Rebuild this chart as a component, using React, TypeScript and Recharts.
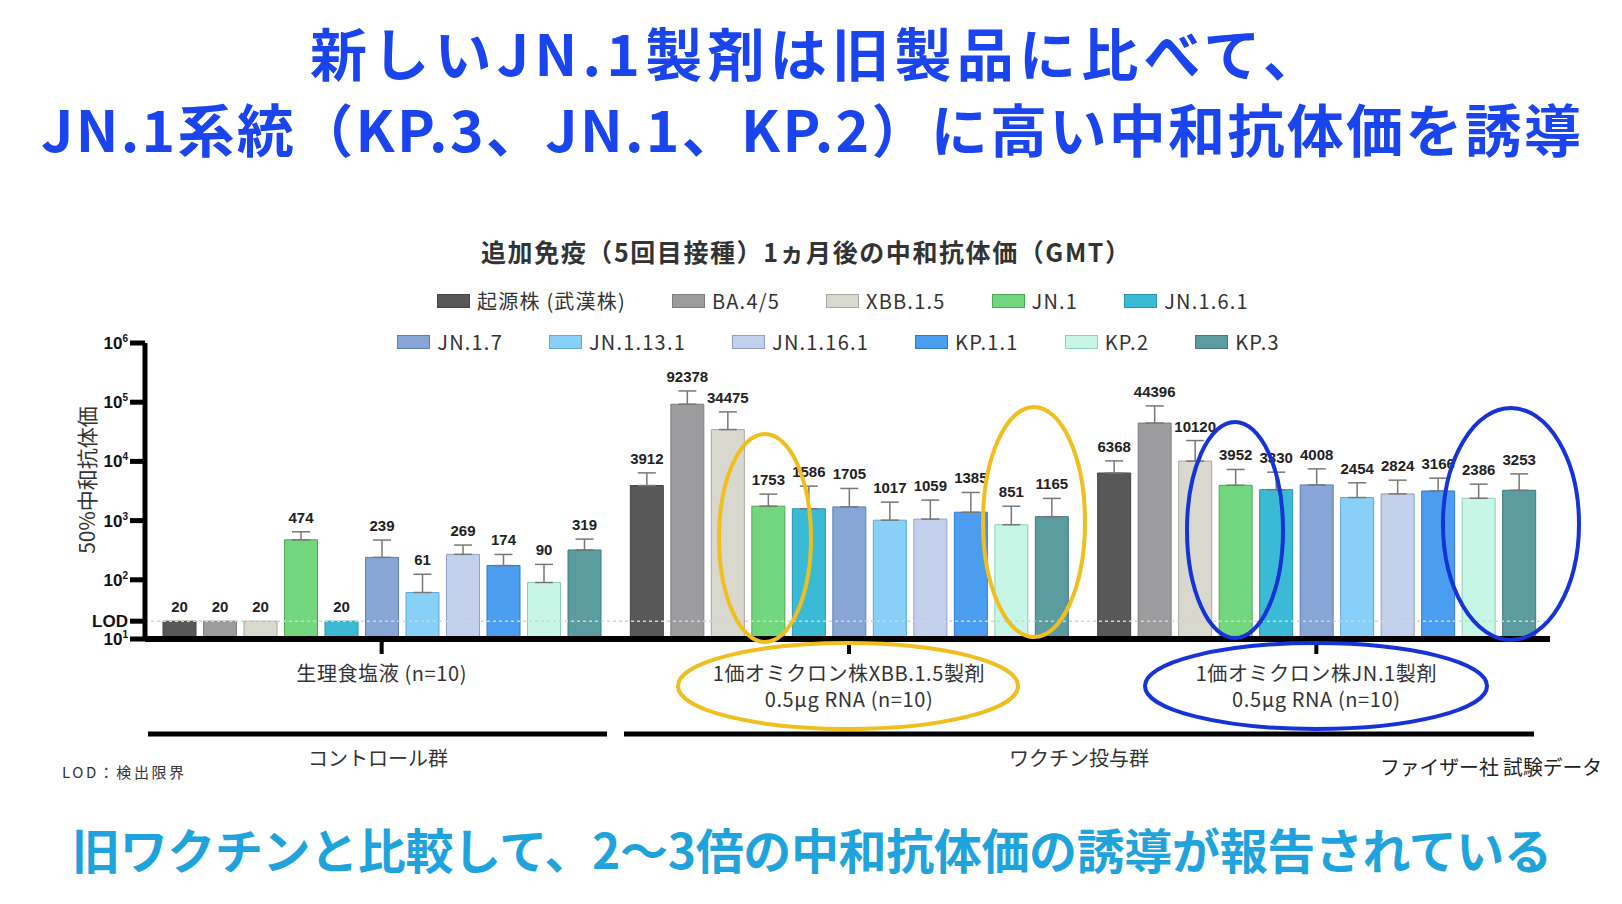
import React from 'react';
import {
  BarChart, Bar, XAxis, YAxis, ErrorBar, LabelList, Legend, ReferenceLine,
} from 'recharts';

const JP = "'Noto Sans CJK JP', 'Noto Sans', sans-serif";
const NUM = "'Liberation Sans', Arial, sans-serif";

// groups on the x axis
const groups = ['saline', 'xbb15', 'jn1'];
const groupLabels = [
  ['生理食塩液 (n=10)'],
  ['1価オミクロン株XBB.1.5製剤', '0.5μg RNA (n=10)'],
  ['1価オミクロン株JN.1製剤', '0.5μg RNA (n=10)'],
];

// variants (one bar series each)
const strains = ['起源株 (武漢株)', 'BA.4/5', 'XBB.1.5', 'JN.1', 'JN.1.6.1', 'JN.1.7',
  'JN.1.13.1', 'JN.1.16.1', 'KP.1.1', 'KP.2', 'KP.3'];
const fills = ['#585858', '#9c9c9e', '#d9d8cf', '#72d67e', '#3bbad6', '#87a6d6',
  '#88d0f8', '#c3d0ec', '#4b9df0', '#c7f5e6', '#5a9ca0'];
const strokes = ['#444444', '#7f7f82', '#a9a89e', '#4fa85a', '#2a93ad', '#5f7fb3',
  '#5ea8d6', '#8f9fc7', '#2f7bc9', '#8ccfbb', '#3f7b80'];

// GMT values per group
const salineGMT = [20, 20, 20, 474, 20, 239, 61, 269, 174, 90, 319];
const xbbGMT = [3912, 92378, 34475, 1753, 1586, 1705, 1017, 1059, 1385, 851, 1165];
const jn1GMT = [6368, 44396, 10120, 3952, 3330, 4008, 2454, 2824, 3166, 2386, 3253];

// upper end of the error bars
const salineUpper = [null, null, null, 647, null, 469, 124, 386, 268, 182, 487];
const xbbUpper = [6400, 155000, 68500, 2800, 3820, 3490, 2050, 2220, 2990, 1750, 2370];
const jn1Upper = [10200, 86500, 22500, 7310, 6580, 7480, 4350, 4820, 5210, 4130, 6150];

const yTicks = [10, 20, 100, 1000, 10000, 100000, 1000000];

const gmtByGroup = [salineGMT, xbbGMT, jn1GMT];
const upperByGroup = [salineUpper, xbbUpper, jn1Upper];

const data = groups.map((g, gi) => {
  const row: any = { group: g };
  strains.forEach((_, si) => {
    const v = gmtByGroup[gi][si];
    const up = upperByGroup[gi][si];
    row[`v${si}`] = v;
    row[`u${si}`] = up;
    row[`e${si}`] = up == null ? null : [0, up - v];
  });
  return row;
});

const ValueLabel = (props: any) => {
  const vb = props.viewBox && props.viewBox.width != null ? props.viewBox : props;
  const { x, y, width, height } = vb;
  const [v, up] = props.value || [];
  if (v == null) return null;
  const decade = Math.abs(height) / (Math.log10(v) - 1);
  const top = up ? y - (Math.log10(up) - Math.log10(v)) * decade : y;
  return (
    <text x={x + width / 2} y={top - 9} textAnchor="middle" fontFamily={NUM}
      fontWeight="bold" fontSize={15} fill="#222">
      {v}
    </text>
  );
};

const LogTick = ({ x, y, payload }: any) => {
  const v = payload.value;
  if (v === 20) {
    return (
      <text x={x} y={y + 6} textAnchor="end" fontFamily={NUM} fontWeight="bold"
        fontSize={17} fill="#111">LOD</text>
    );
  }
  const exp = Math.round(Math.log10(v));
  return (
    <text x={x} y={y + 6} textAnchor="end" fontFamily={NUM} fontWeight="bold"
      fontSize={17} fill="#111">
      10<tspan dy={-7} fontSize={10}>{exp}</tspan>
    </text>
  );
};

const GroupTick = ({ x, y, payload }: any) => {
  const lines = groupLabels[groups.indexOf(payload.value)] || [];
  return (
    <g>
      {lines.map((l, i) => (
        <text key={i} x={x} y={y + 16 + i * 26} textAnchor="middle" dominantBaseline="central"
          fontFamily={JP} fontSize={20} letterSpacing={0.6} fill="#333">{l}</text>
      ))}
    </g>
  );
};

const LegendRows = ({ payload }: any) => {
  const list = payload || [];
  const items = strains.map((s, i) => {
    const p = list.find((e: any) => e.value === s);
    if (!p) return null;
    return (
      <div key={s} style={{ display: 'flex', alignItems: 'center' }}>
        <span style={{
          width: 31, height: 12, background: fills[i], border: `1px solid ${strokes[i]}`,
          marginRight: 7, display: 'inline-block',
        }} />
        <span style={{ fontFamily: JP, fontSize: 20, letterSpacing: 1.2, color: '#333' }}>{p.value}</span>
      </div>
    );
  });
  const row = (els: any[], pad: number) => (
    <div style={{
      display: 'flex', justifyContent: 'center', alignItems: 'center', gap: 46,
      height: 41, paddingLeft: pad,
    }}>{els}</div>
  );
  return (
    <div>
      {row(items.slice(0, 5), 64)}
      {row(items.slice(5), 55)}
    </div>
  );
};

export default function App() {
  return (
    <div style={{ position: 'absolute', left: 0, top: 0, width: 1622, height: 904, background: '#fff' }}>
      <BarChart width={1622} height={904} data={data} barGap={7.5}
        margin={{ top: 343, right: 72, bottom: 165, left: 0 }}>
        <XAxis dataKey="group" height={100} padding={{ left: 3, right: 0 }} interval={0}
          axisLine={{ stroke: '#000', strokeWidth: 6 }}
          tickLine={{ stroke: '#000', strokeWidth: 4 }} tickSize={15} tickMargin={2}
          tick={<GroupTick />} />
        <YAxis scale="log" type="number" domain={[10, 1000000]} allowDataOverflow
          ticks={yTicks} interval={0} width={145}
          axisLine={{ stroke: '#000', strokeWidth: 5 }}
          tickLine={{ stroke: '#000', strokeWidth: 5 }} tickSize={15} tickMargin={2}
          tick={<LogTick />} />
        <ReferenceLine y={20} stroke="#d4d4d4" strokeDasharray="3 3" strokeWidth={1.5} />
        <Legend layout="horizontal" verticalAlign="middle" align="center"
          wrapperStyle={{ top: 280, left: 0, width: 1622 }} content={<LegendRows />} />
        {strains.map((s, si) => (
          <Bar key={s} dataKey={`v${si}`} name={s} fill={fills[si]} stroke={strokes[si]}
            strokeWidth={1} barSize={33} isAnimationActive={false}>
            <ErrorBar dataKey={`e${si}`} direction="y" width={9} stroke="#777" strokeWidth={1.5} />
            <LabelList dataKey={(r: any) => [r[`v${si}`], r[`u${si}`]]} content={<ValueLabel />} />
          </Bar>
        ))}
      </BarChart>

      <svg width={1622} height={904} style={{ position: 'absolute', left: 0, top: 0, pointerEvents: 'none' }}>
        <text x={310} y={51} dominantBaseline="central" fontFamily={JP} fontWeight="bold" fontSize={57}
          fill="#1a44ee" textLength={1010} lengthAdjust="spacing">新しいJN.1製剤は旧製品に比べて、</text>
        <text x={41} y={127} dominantBaseline="central" fontFamily={JP} fontWeight="bold" fontSize={57}
          fill="#1a44ee" textLength={1540} lengthAdjust="spacing">JN.1系統（KP.3、JN.1、KP.2）に高い中和抗体価を誘導</text>

        <text x={481} y={251} dominantBaseline="central" fontFamily={JP} fontWeight="bold" fontSize={25}
          fill="#333" textLength={649} lengthAdjust="spacing">追加免疫（5回目接種）1ヵ月後の中和抗体価（GMT）</text>

        <text transform="translate(86,480) rotate(-90)" textAnchor="middle" dominantBaseline="central"
          fontFamily={JP} fontSize={21} fill="#333">50%中和抗体価</text>

        <line x1={148} y1={734} x2={607} y2={734} stroke="#000" strokeWidth={5} />
        <line x1={624} y1={734} x2={1534} y2={734} stroke="#000" strokeWidth={5} />
        <text x={378} y={757} textAnchor="middle" dominantBaseline="central" fontFamily={JP}
          fontSize={20} fill="#333">コントロール群</text>
        <text x={1079} y={757} textAnchor="middle" dominantBaseline="central" fontFamily={JP}
          fontSize={20} fill="#333">ワクチン投与群</text>
        <text x={62} y={771} dominantBaseline="central" fontFamily={JP} fontSize={15}
          fill="#333" textLength={122} lengthAdjust="spacing">LOD：検出限界</text>
        <text x={1380} y={766} dominantBaseline="central" fontFamily={JP} fontSize={20}
          fill="#222" textLength={222} lengthAdjust="spacingAndGlyphs">ファイザー社 試験データ</text>

        <text x={72} y={848} dominantBaseline="central" fontFamily={JP} fontWeight="bold" fontSize={48}
          fill="#1fa3dc" textLength={1480} lengthAdjust="spacing">旧ワクチンと比較して、2〜3倍の中和抗体価の誘導が報告されている</text>

        <g fill="none" strokeWidth={4}>
          <ellipse cx={765} cy={538} rx={46} ry={104} stroke="#f0be1e" />
          <ellipse cx={1034} cy={522} rx={51} ry={115} stroke="#f0be1e" />
          <ellipse cx={848} cy={686} rx={170} ry={43} stroke="#f0be1e" />
          <ellipse cx={1235} cy={530} rx={48} ry={108} stroke="#1533d6" />
          <ellipse cx={1511} cy={524} rx={68} ry={116} stroke="#1533d6" />
          <ellipse cx={1316} cy={686} rx={171} ry={43} stroke="#1533d6" />
        </g>
      </svg>
    </div>
  );
}
